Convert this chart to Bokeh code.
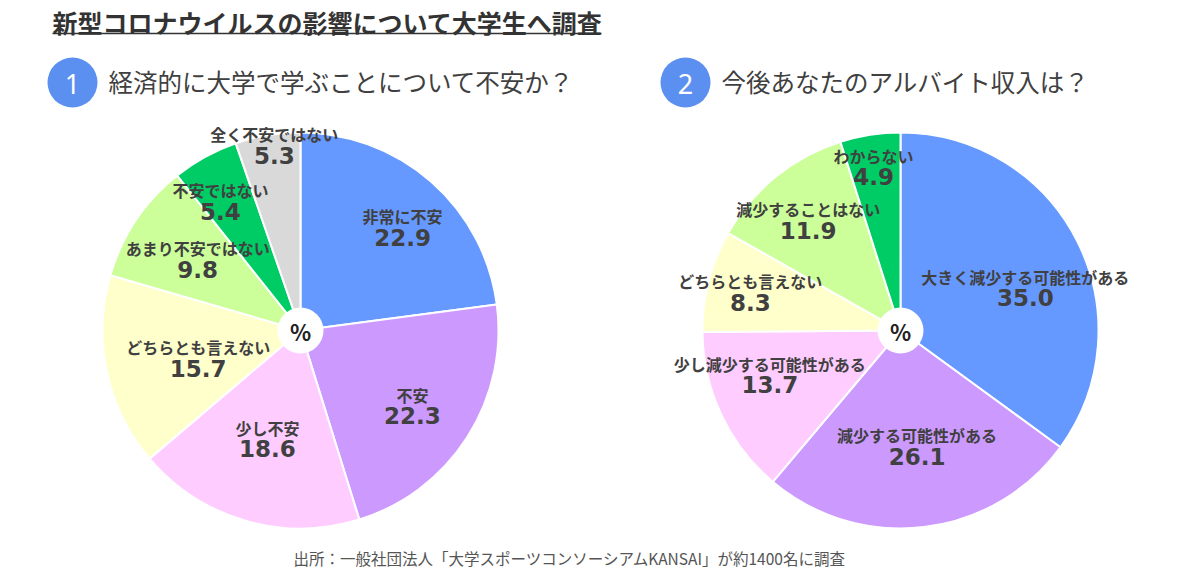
import numpy as np
from bokeh.plotting import figure
from bokeh.models import Range1d, ColumnDataSource
from bokeh.core.properties import value
from bokeh.embed import file_html
from bokeh.resources import INLINE

# ---------------- data ----------------
title_text = "新型コロナウイルスの影響について大学生へ調査"
q1_title = "経済的に大学で学ぶことについて不安か？"
q2_title = "今後あなたのアルバイト収入は？"
source_note = "出所：一般社団法人「大学スポーツコンソーシアムKANSAI」が約1400名に調査"

q1_labels = ["非常に不安", "不安", "少し不安", "どちらとも言えない",
             "あまり不安ではない", "不安ではない", "全く不安ではない"]
q1_values = [22.9, 22.3, 18.6, 15.7, 9.8, 5.4, 5.3]

q2_labels = ["大きく減少する可能性がある", "減少する可能性がある", "少し減少する可能性がある",
             "どちらとも言えない", "減少することはない", "わからない"]
q2_values = [35.0, 26.1, 13.7, 8.3, 11.9, 4.9]

# ---------------- styles ----------------
q1_colors = ["#6699FF", "#CC99FF", "#FFCCFF", "#FFFFCC", "#CCFF99", "#00CC66", "#D9D9D9"]
q2_colors = ["#6699FF", "#CC99FF", "#FFCCFF", "#FFFFCC", "#CCFF99", "#00CC66"]
q1_label_dist = [145, 135, 113, 106, 125, 152, 187]
q1_label_dang = [3.5, 1.4, 0.8, -3.0, 0.8, -3.0, 1.5]
q2_label_dist = [132, 117, 138, 155, 144, 166]
q2_label_dang = [8.0, -1.3, 6.4, -0.2, -0.8, -0.5]

W, H = 1200, 576
JP = value("Noto Sans CJK JP")
NUM = value("DejaVu Sans")
TXT = "#404040"


def sy(y):
    """screen y (top-down) -> data y"""
    return H - y


p = figure(width=W, height=H, x_range=Range1d(0, W), y_range=Range1d(0, H),
           toolbar_location=None, output_backend="svg", min_border=0,
           x_axis_location=None, y_axis_location=None)
p.grid.visible = False
p.outline_line_color = None
p.background_fill_color = "white"
p.border_fill_color = "white"

# title + underline
p.text(x=[52], y=[sy(21)], text=[title_text], text_font=JP, text_font_style="bold",
       text_font_size="25px", text_color="#333333", text_align="left", text_baseline="middle")
p.segment(x0=[52], y0=[sy(33)], x1=[601], y1=[sy(33)], line_color="#333333", line_width=1.6)


def question(cx, cy, num, text):
    p.scatter(x=[cx], y=[sy(cy)], size=50, marker="circle", fill_color="#5B8FF0", line_color=None)
    p.text(x=[cx], y=[sy(cy) - 1], text=[num], text_font=value("Noto Sans"), text_font_size="27px",
           text_color="white", text_align="center", text_baseline="middle")
    p.text(x=[cx + 36], y=[sy(cy - 1)], text=[text], text_font=JP, text_font_size="24.5px",
           text_color=TXT, text_align="left", text_baseline="middle")


question(72, 82, "1", q1_title)
question(685, 82, "2", q2_title)


def pie(cx, cy, r, labels, vals, colors, ldist, ldang):
    vals = np.asarray(vals, dtype=float)
    total = vals.sum()
    cum = np.cumsum(vals) / total
    prev = np.concatenate([[0.0], cum[:-1]])
    start = np.pi / 2 - 2 * np.pi * prev
    end = np.pi / 2 - 2 * np.pi * cum
    src = ColumnDataSource(dict(start=start, end=end, color=colors))
    p.wedge(x=cx, y=sy(cy), radius=r, start_angle="start", end_angle="end",
            direction="clock", fill_color="color", line_color="white", line_width=2, source=src)
    # center hole
    p.scatter(x=[cx], y=[sy(cy)], size=46, marker="circle", fill_color="white", line_color=None)
    p.text(x=[cx], y=[sy(cy)], text=["%"], text_font=JP, text_font_style="bold",
           text_font_size="22px", text_color="#222222", text_align="center", text_baseline="middle")
    mid = np.degrees(2 * np.pi * (prev + cum) / 2) + np.asarray(ldang)
    th = np.radians(mid)
    d = np.asarray(ldist, dtype=float)
    lx = cx + d * np.sin(th)
    ly = sy(cy) + d * np.cos(th)
    p.text(x=lx, y=ly + 11, text=labels, text_font=JP, text_font_style="bold",
           text_font_size="16px", text_color=TXT, text_align="center", text_baseline="middle")
    p.text(x=lx, y=ly - 10, text=[f"{v:.1f}" for v in vals], text_font=NUM, text_font_style="bold",
           text_font_size="23px", text_color=TXT, text_align="center", text_baseline="middle")


pie(300, 330, 198, q1_labels, q1_values, q1_colors, q1_label_dist, q1_label_dang)
pie(900, 330, 198, q2_labels, q2_values, q2_colors, q2_label_dist, q2_label_dang)

# source note
p.text(x=[293], y=[sy(557)], text=[source_note], text_font=JP, text_font_size="15.5px",
       text_color="#555555", text_align="left", text_baseline="middle")

open("out.html", "w").write(file_html(p, INLINE))
